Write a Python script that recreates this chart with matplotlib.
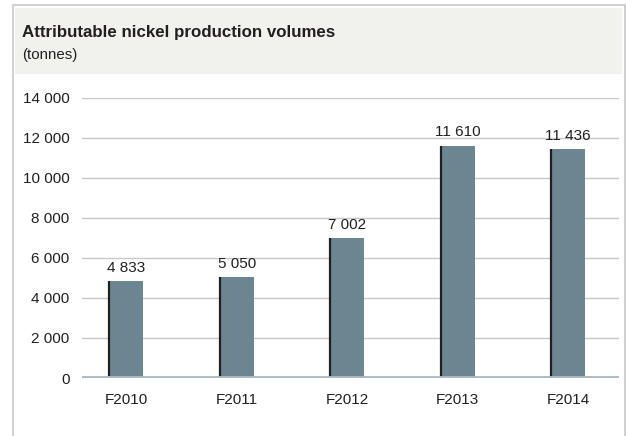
import matplotlib.pyplot as plt
from matplotlib.patches import Rectangle

plt.rcParams["font.family"] = ["Liberation Sans", "DejaVu Sans"]

categories = ["F2010", "F2011", "F2012", "F2013", "F2014"]
volumes = [4833, 5050, 7002, 11610, 11436]
value_labels = ["4 833", "5 050", "7 002", "11 610", "11 436"]
y_ticks = [0, 2000, 4000, 6000, 8000, 10000, 12000, 14000]
y_tick_labels = ["0", "2 000", "4 000", "6 000", "8 000", "10 000", "12 000", "14 000"]

W, H = 627, 436
fig = plt.figure(figsize=(W / 100, H / 100), dpi=100)

# outer frame and grey header band (pixel coords -> figure fraction)
def box(x0, y0, x1, y1, **kw):
    fig.patches.append(Rectangle((x0 / W, 1 - y1 / H), (x1 - x0) / W, (y1 - y0) / H,
                                 transform=fig.transFigure, zorder=-5, **kw))

box(13, 5, 625, 440, facecolor="white", edgecolor="#c8c8c8", linewidth=1.2)
box(15, 8, 622, 74, facecolor="#f1f1ed", edgecolor="none")

fig.text(22 / W, 1 - 32 / H, "Attributable nickel production volumes",
         fontsize=12.2, fontweight="bold", color="#231f20", va="center", ha="left")
fig.text(22 / W, 1 - 55 / H, "(tonnes)", fontsize=10.8, color="#231f20",
         va="center", ha="left")

ax = fig.add_axes([82 / W, (H - 378) / H, (619 - 82) / W, (378 - 97.7) / H])
ax.set_facecolor("none")

x = range(len(categories))
bar_w = 0.31
ax.bar(x, volumes, width=bar_w, color="#6b8691", zorder=3)
ax.vlines([i - bar_w / 2 for i in x], 0, volumes, color="#231f20", linewidth=1.6, zorder=4)

for i, (v, lab) in enumerate(zip(volumes, value_labels)):
    ax.annotate(lab, (i, v), xytext=(0, 4.5), textcoords="offset points",
                ha="center", va="bottom", fontsize=11, color="#231f20")

ax.set_xlim(-0.4, 4.46)
ax.set_ylim(0, 14000)
ax.set_yticks(y_ticks)
ax.set_yticklabels(y_tick_labels)
ax.set_xticks(list(x))
ax.set_xticklabels(categories)
ax.tick_params(axis="both", length=0, labelsize=11, colors="#231f20")
ax.tick_params(axis="y", pad=9)
ax.tick_params(axis="x", pad=11)

ax.grid(axis="y", color="#c8c8c8", linewidth=1, zorder=0)
for s in ax.spines.values():
    s.set_visible(False)
ax.axhline(0, color="#a8bcc4", linewidth=3.5, zorder=5)

fig.savefig("out.png", dpi=100)
